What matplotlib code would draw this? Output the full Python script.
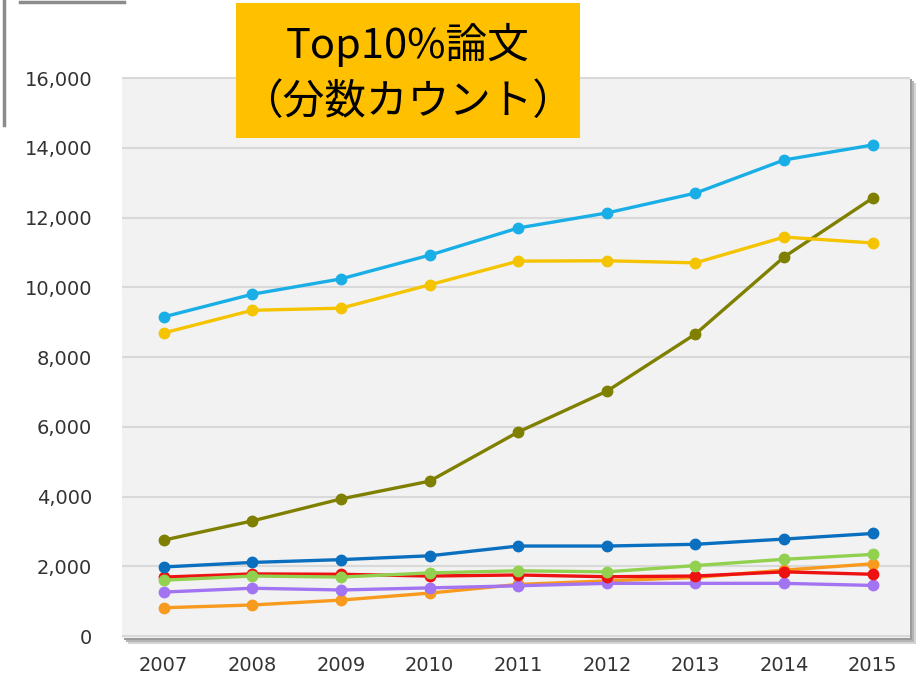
import matplotlib.pyplot as plt
from matplotlib.patches import Rectangle

plt.rcParams['font.family'] = ['DejaVu Sans', 'Noto Sans CJK JP']

years = [2007, 2008, 2009, 2010, 2011, 2012, 2013, 2014, 2015]

light_blue = [9150, 9800, 10240, 10920, 11700, 12130, 12700, 13650, 14080]
yellow = [8690, 9340, 9400, 10070, 10750, 10760, 10700, 11440, 11270]
olive = [2750, 3300, 3930, 4440, 5850, 7020, 8660, 10870, 12560]
dark_blue = [1980, 2110, 2190, 2300, 2580, 2580, 2630, 2780, 2940]
green = [1600, 1720, 1690, 1810, 1870, 1840, 2020, 2200, 2340]
red = [1690, 1780, 1770, 1720, 1750, 1700, 1720, 1840, 1770]
purple = [1260, 1370, 1320, 1380, 1440, 1510, 1510, 1510, 1450]
orange = [810, 890, 1030, 1230, 1480, 1580, 1680, 1890, 2070]

series = [
    (orange, '#F79A1E'),
    (purple, '#A374F2'),
    (red, '#EE1111'),
    (green, '#92D050'),
    (dark_blue, '#0B6FBF'),
    (olive, '#7F7F00'),
    (yellow, '#F5C400'),
    (light_blue, '#19AFE6'),
]

fig = plt.figure(figsize=(9.21, 6.77), dpi=100)

W, H = 921, 677
ax_l, ax_r, ax_t, ax_b = 122, 910, 77, 638
ax = fig.add_axes([ax_l / W, 1 - ax_b / H, (ax_r - ax_l) / W, (ax_b - ax_t) / H])

# soft drop shadow behind plot area
for off, c in [(6, '#d4d4d4'), (4, '#b4b4b4'), (2, '#9c9c9c')]:
    fig.patches.append(Rectangle(((ax_l + off) / W, 1 - (ax_b + off) / H), (ax_r - ax_l) / W, (ax_b - ax_t) / H,
                                 transform=fig.transFigure, facecolor=c, edgecolor='none', zorder=-2))
ax.set_facecolor('#F2F2F2')
ax.set_zorder(1)

for vals, col in series:
    ax.plot(years, vals, color=col, lw=2.4, marker='o', ms=7.5, solid_capstyle='round')

ax.set_xlim(2006.53, 2015.42)
ax.set_ylim(-57, 16029)
ax.set_yticks(range(0, 16001, 2000))
ax.set_yticklabels([f'{v:,}' for v in range(0, 16001, 2000)])
ax.set_xticks(years)
ax.grid(axis='y', color='#D9D9D9', lw=1.5)
ax.set_axisbelow(True)
for s in ax.spines.values():
    s.set_visible(False)
ax.tick_params(length=0, labelsize=14, colors='#333333')
ax.tick_params(axis='y', pad=21.5)
ax.tick_params(axis='x', pad=13)

# title box
fig.patches.append(Rectangle((236 / W, 1 - 138 / H), (580 - 236) / W, (138 - 3) / H,
                             transform=fig.transFigure, facecolor='#FFC000', edgecolor='none', zorder=5))
fig.text(408 / W, 1 - 45 / H, 'Top10%論文', ha='center', va='center', fontsize=30,
         family=['Noto Sans CJK JP'], zorder=6)
fig.text(408 / W, 1 - 102 / H, '（分数カウント）', ha='center', va='center', fontsize=30,
         family=['Noto Sans CJK JP'], zorder=6)

# fragment of another slide element at top-left
fig.add_artist(plt.Line2D([4 / W, 4 / W], [1, 1 - 125 / H], color='#8c8c8c', lw=2.5, transform=fig.transFigure))
fig.add_artist(plt.Line2D([20 / W, 124 / W], [1 - 2 / H, 1 - 2 / H], color='#8c8c8c', lw=2.5, transform=fig.transFigure))

fig.savefig('out.png', dpi=100)
